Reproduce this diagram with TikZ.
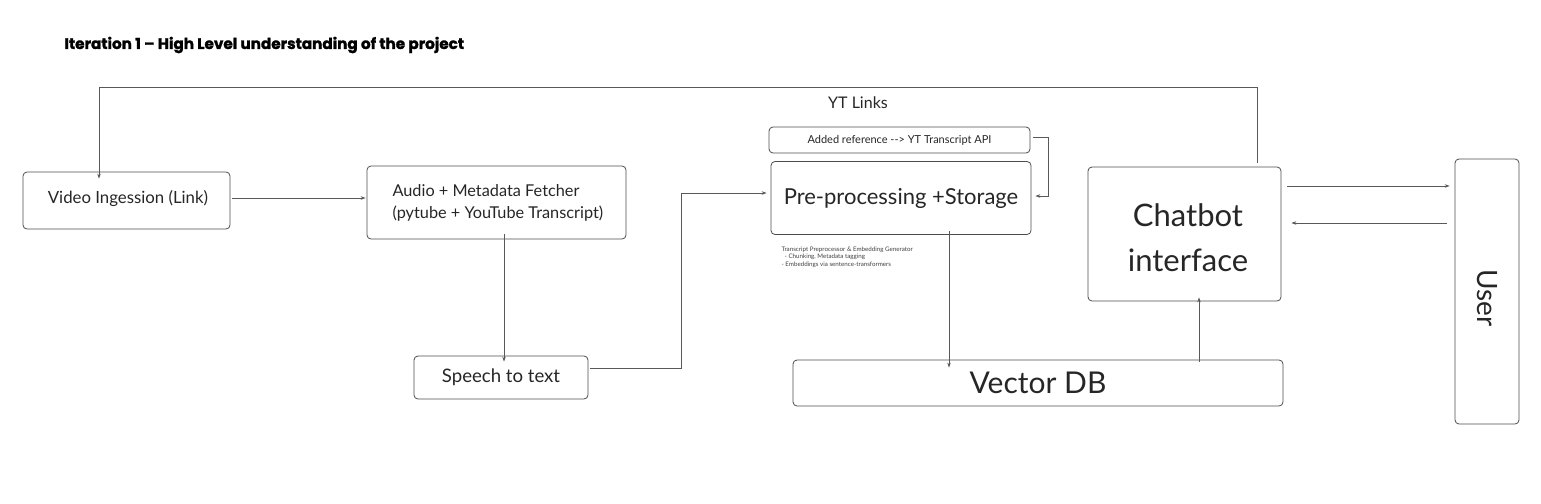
\documentclass[tikz,border=0pt]{standalone}
\usepackage{fontspec}
\setmainfont{Lato}
\newfontfamily\titlefont{Poppins}[UprightFont=* Bold, UprightFeatures={FakeBold=1.5}]
\usetikzlibrary{arrows.meta}
\begin{document}
\begin{tikzpicture}[x=1pt,y=-1pt,
  box/.style={draw=black!70, line width=0.8pt, rounded corners=4pt, inner sep=0pt},
  conn/.style={draw=black!65, line width=0.6pt, -{Stealth[length=5pt,width=3.5pt]}},
  every node/.style={text=black!85}]
\useasboundingbox (0,0) rectangle (1541,503);
\node[anchor=west, font=\titlefont\fontsize{15.2}{17}\selectfont, text=black] (title) at (61,45) {Iteration 1 – High Level understanding of the project};

\node[box, minimum width=207pt, minimum height=57pt] (video) at (126.5,200.5) {};
\node[font=\fontsize{16.8}{19}\selectfont] at (128,199) {Video Ingession (Link)};

\node[box, minimum width=259pt, minimum height=73pt] (audio) at (496.5,202.5) {};
\node[anchor=west, align=left, font=\fontsize{16.3}{22}\selectfont] (audiotxt) at (389,203) {Audio + Metadata Fetcher\\(pytube + YouTube Transcript)};

\node[box, minimum width=174pt, minimum height=43pt, font=\fontsize{18.6}{21}\selectfont] (speech) at (501,377.5) {Speech to text};

\node[box, minimum width=261pt, minimum height=26pt, font=\fontsize{11}{13}\selectfont] (added) at (899.5,140) {Added reference {-}{-}> YT Transcript API};

\node[box, minimum width=260pt, minimum height=73pt, font=\fontsize{22}{25}\selectfont] (pre) at (901,198) {Pre-processing +Storage};

\node[anchor=north west, align=left, font=\fontsize{6.2}{7.6}\selectfont, text=black!75] (note) at (778,243) {Transcript Preprocessor \& Embedding Generator\\\ \ - Chunking, Metadata tagging\\- Embeddings via sentence-transformers};

\node[box, minimum width=193pt, minimum height=134pt] (chat) at (1184.5,234) {};
\node[align=center, font=\fontsize{31}{45}\selectfont] at (1188,238) {Chatbot\\interface};

\node[box, minimum width=490pt, minimum height=46pt, font=\fontsize{30}{34}\selectfont] (vdb) at (1038,383) {Vector DB};

\node[box, minimum width=64pt, minimum height=265pt] (user) at (1487,291.5) {};
\node[rotate=-90, font=\fontsize{28}{32}\selectfont] at (1487,298) {User};

\node[font=\fontsize{16}{18}\selectfont] (ytl) at (858,103) {YT Links};

% connectors
\coordinate (f1) at (1257,87);
\coordinate (f2) at (99,87);
\draw[conn] (chat.north -| 1257,0) ++(0,-4) -- (f1) -- (f2) -- ([yshift=-7pt]video.north -| f2);
\draw[conn] ([xshift=2pt]video.east |- 0,198) -- ([xshift=-1pt]audio.west |- 0,198);
\draw[conn] ([yshift=5pt]audio.south -| 504,0) -- ([yshift=-6pt]speech.north -| 504,0);
\coordinate (s1) at (681,368);
\coordinate (s2) at (681,193);
\draw[conn] ([xshift=2pt]speech.east |- s1) -- (s1) -- (s2) -- ([xshift=-4pt]pre.west |- s2);
\coordinate (a1) at (1048,137);
\coordinate (a2) at (1048,196);
\draw[conn] ([xshift=3pt]added.east |- a1) -- (a1) -- (a2) -- ([xshift=4pt]pre.east |- a2);
\draw[conn] ([yshift=4pt]pre.south -| 949,0) -- ([yshift=-8pt]vdb.north -| 949,0);
\draw[conn] ([yshift=-2pt]vdb.north -| 1199,0) -- ([yshift=4pt]chat.south -| 1199,0);
\draw[conn] ([xshift=6pt]chat.east |- 0,186) -- ([xshift=-5pt]user.west |- 0,186);
\draw[conn] ([xshift=-8pt]user.west |- 0,223) -- ([xshift=10pt]chat.east |- 0,223);
\end{tikzpicture}
\end{document}
